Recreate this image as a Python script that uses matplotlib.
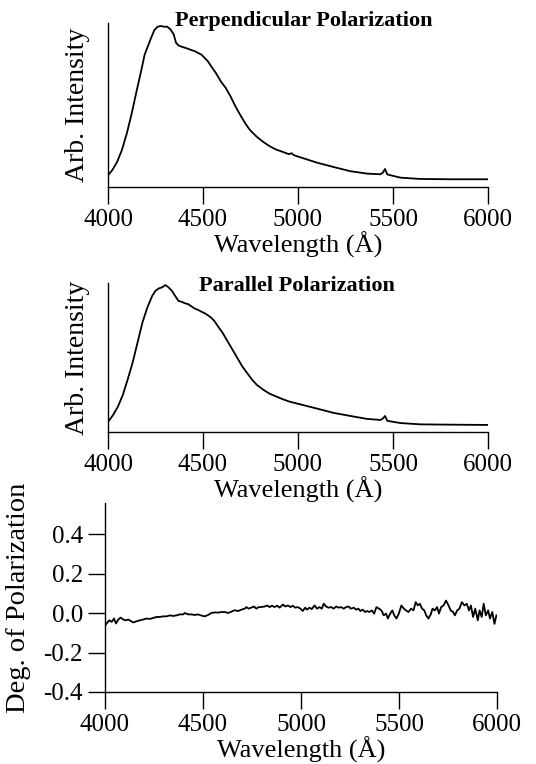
import matplotlib
matplotlib.use("Agg")
import matplotlib.pyplot as plt

plt.rcParams['font.family'] = ['Liberation Serif', 'DejaVu Serif']

# ---------------- data ----------------
perp_wl = [4000, 4022, 4048, 4073, 4099, 4125, 4150, 4176, 4193, 4210, 4227, 4244,
           4261, 4278, 4295, 4312, 4329, 4346, 4358, 4372, 4389, 4406, 4423, 4440,
           4457, 4474, 4491, 4509, 4526, 4543, 4568, 4594, 4620, 4645, 4671, 4696,
           4722, 4747, 4782, 4816, 4850, 4884, 4918, 4952, 4966, 4978, 5003, 5101,
           5188, 5276, 5364, 5434, 5447, 5458, 5470, 5539, 5644, 5802, 6000]
perp_int = [0.073, 0.104, 0.156, 0.229, 0.333, 0.458, 0.594, 0.729, 0.823, 0.875, 0.927, 0.975,
            0.996, 1.000, 0.996, 0.996, 0.979, 0.948, 0.896, 0.879, 0.871, 0.865, 0.858, 0.850,
            0.844, 0.833, 0.823, 0.802, 0.781, 0.750, 0.708, 0.656, 0.615, 0.563, 0.500, 0.448,
            0.396, 0.354, 0.313, 0.281, 0.254, 0.233, 0.219, 0.204, 0.210, 0.198, 0.188, 0.151,
            0.124, 0.098, 0.083, 0.079, 0.090, 0.112, 0.078, 0.058, 0.050, 0.048, 0.048]

par_wl = [4000, 4026, 4052, 4078, 4103, 4129, 4155, 4181, 4207, 4233, 4250, 4267,
          4284, 4302, 4319, 4336, 4353, 4371, 4388, 4405, 4422, 4440, 4457, 4474,
          4491, 4509, 4526, 4543, 4560, 4578, 4603, 4629, 4655, 4681, 4707, 4733,
          4759, 4784, 4819, 4853, 4888, 4922, 4957, 4991, 5101, 5188, 5276, 5364,
          5434, 5447, 5458, 5470, 5539, 5644, 5802, 6000]
par_int = [0.069, 0.114, 0.172, 0.252, 0.355, 0.469, 0.606, 0.744, 0.847, 0.927, 0.961, 0.977,
           0.984, 1.000, 0.984, 0.961, 0.927, 0.892, 0.886, 0.876, 0.870, 0.854, 0.840, 0.831,
           0.819, 0.808, 0.794, 0.778, 0.755, 0.721, 0.675, 0.618, 0.561, 0.503, 0.446, 0.400,
           0.355, 0.320, 0.286, 0.259, 0.240, 0.222, 0.206, 0.195, 0.159, 0.130, 0.109, 0.089,
           0.082, 0.092, 0.109, 0.076, 0.061, 0.052, 0.050, 0.048]

pol_wl = [4000, 4008, 4022, 4034, 4046, 4056, 4068, 4080, 4093, 4107, 4119, 4131, 4144, 4161,
          4178, 4195, 4212, 4229, 4246, 4263, 4280, 4297, 4314, 4331, 4348, 4365, 4382,
          4399, 4407, 4424, 4441, 4458, 4475, 4492, 4509, 4526, 4543, 4560, 4577, 4594,
          4611, 4628, 4645, 4662, 4679, 4696, 4713, 4721, 4733, 4746, 4760, 4772, 4784,
          4797, 4814, 4828, 4840, 4852, 4865, 4879, 4891, 4908, 4919, 4933, 4947, 4958,
          4970, 4984, 4997, 5009, 5021, 5031, 5043, 5055, 5069, 5082, 5094, 5106, 5116,
          5128, 5140, 5154, 5167, 5179, 5191, 5204, 5218, 5230, 5242, 5255, 5269, 5281,
          5293, 5303, 5315, 5327, 5337, 5349, 5362, 5373, 5385, 5398, 5411, 5422, 5434,
          5443, 5455, 5466, 5476, 5487, 5499, 5512, 5525, 5536, 5548, 5561, 5574, 5585,
          5596, 5606, 5618, 5629, 5639, 5650, 5662, 5671, 5683, 5694, 5704, 5715, 5727,
          5740, 5753, 5764, 5776, 5785, 5797, 5808, 5821, 5834, 5846, 5857, 5867, 5878,
          5889, 5902, 5911, 5922, 5932, 5943, 5955, 5964, 5976, 5987, 5997]
pol_val = [-0.065, -0.053, -0.037, -0.045, -0.028, -0.053, -0.033, -0.023, -0.033, -0.037, -0.033,
           -0.040, -0.048, -0.042, -0.037, -0.033, -0.028, -0.030, -0.025, -0.020, -0.020,
           -0.017, -0.017, -0.012, -0.015, -0.012, -0.007, -0.007, 0.000, -0.007, -0.007,
           -0.010, -0.007, -0.013, -0.017, -0.010, 0.000, 0.003, 0.002, 0.005, 0.005,
           0.000, 0.007, 0.014, 0.010, 0.017, 0.022, 0.030, 0.022, 0.027, 0.033, 0.022,
           0.030, 0.030, 0.033, 0.038, 0.030, 0.037, 0.030, 0.037, 0.027, 0.043, 0.033,
           0.038, 0.030, 0.037, 0.027, 0.030, 0.022, 0.010, 0.027, 0.017, 0.027, 0.020,
           0.038, 0.022, 0.030, 0.022, 0.047, 0.033, 0.027, 0.030, 0.022, 0.033, 0.027,
           0.030, 0.022, 0.030, 0.033, 0.022, 0.027, 0.017, 0.022, 0.010, 0.017, 0.005,
           0.010, 0.005, 0.013, -0.003, 0.030, 0.022, 0.013, -0.012, -0.003, -0.028,
           -0.003, 0.013, -0.012, -0.028, -0.003, 0.038, 0.022, 0.013, 0.005, 0.022,
           0.013, 0.055, 0.038, 0.047, 0.022, 0.013, -0.012, -0.028, -0.007, 0.022,
           0.013, 0.030, -0.003, 0.030, 0.038, 0.063, 0.038, 0.013, 0.005, -0.012,
           0.013, 0.022, 0.055, 0.038, 0.047, 0.013, 0.038, -0.020, 0.022, -0.037,
           0.013, -0.020, 0.047, -0.012, 0.013, -0.028, 0.005, -0.055, -0.012]

x_ticks = [4000, 4500, 5000, 5500, 6000]
x_tick_labels = ['4000', '4500', '5000', '5500', '6000']
pol_ticks = [-0.4, -0.2, 0.0, 0.2, 0.4]
pol_tick_labels = ['-0.4', '-0.2', '0.0', '0.2', '0.4']

title_perp = 'Perpendicular Polarization'
title_par = 'Parallel Polarization'
xlabel = 'Wavelength (Å)'
ylabel_int = 'Arb. Intensity'
ylabel_pol = 'Deg. of Polarization'

# ---------------- figure ----------------
W, H = 536, 764
fig = plt.figure(figsize=(W / 100, H / 100), dpi=100)

def box(l, r, b, t):
    return [l / W, 1 - b / H, (r - l) / W, (b - t) / H]

ax1 = fig.add_axes(box(108, 488, 187, 23))
ax2 = fig.add_axes(box(108, 488, 432, 283))
ax3 = fig.add_axes(box(105, 497, 692, 503))

FS = 18

def style(ax):
    for s in ('top', 'right'):
        ax.spines[s].set_visible(False)
    for s in ('left', 'bottom'):
        ax.spines[s].set_linewidth(1.0)
    ax.set_xlim(4000, 6000)
    ax.set_xticks(x_ticks)
    ax.set_xticklabels(x_tick_labels)
    ax.tick_params(direction='out', length=12, width=1.0, labelsize=FS, pad=4)
    ax.set_xlabel(xlabel, fontsize=19, labelpad=0)

for ax, wl, iv, yl in ((ax1, perp_wl, perp_int, 1.019), (ax2, par_wl, par_int, 1.014)):
    ax.plot(wl, iv, color='black', lw=1.3)
    style(ax)
    ax.set_ylim(0, yl)
    ax.set_yticks([])
    ax.set_ylabel(ylabel_int, fontsize=20)
    ax.yaxis.set_label_coords(-0.047, 0.5)

ax3.plot(pol_wl, pol_val, color='black', lw=1.3)
style(ax3)
ax3.set_ylim(-0.4, 0.557)
ax3.set_yticks(pol_ticks)
ax3.set_yticklabels(pol_tick_labels)
ax3.set_ylabel(ylabel_pol, fontsize=20.5)
ax3.yaxis.set_label_coords(-0.19, 0.5)

fig.text(304 / W, 1 - 21 / H, title_perp, ha='center', va='center',
         fontsize=16, fontweight='bold')
fig.text(297 / W, 1 - 286 / H, title_par, ha='center', va='center',
         fontsize=16, fontweight='bold')

fig.savefig('out.png', dpi=100)
